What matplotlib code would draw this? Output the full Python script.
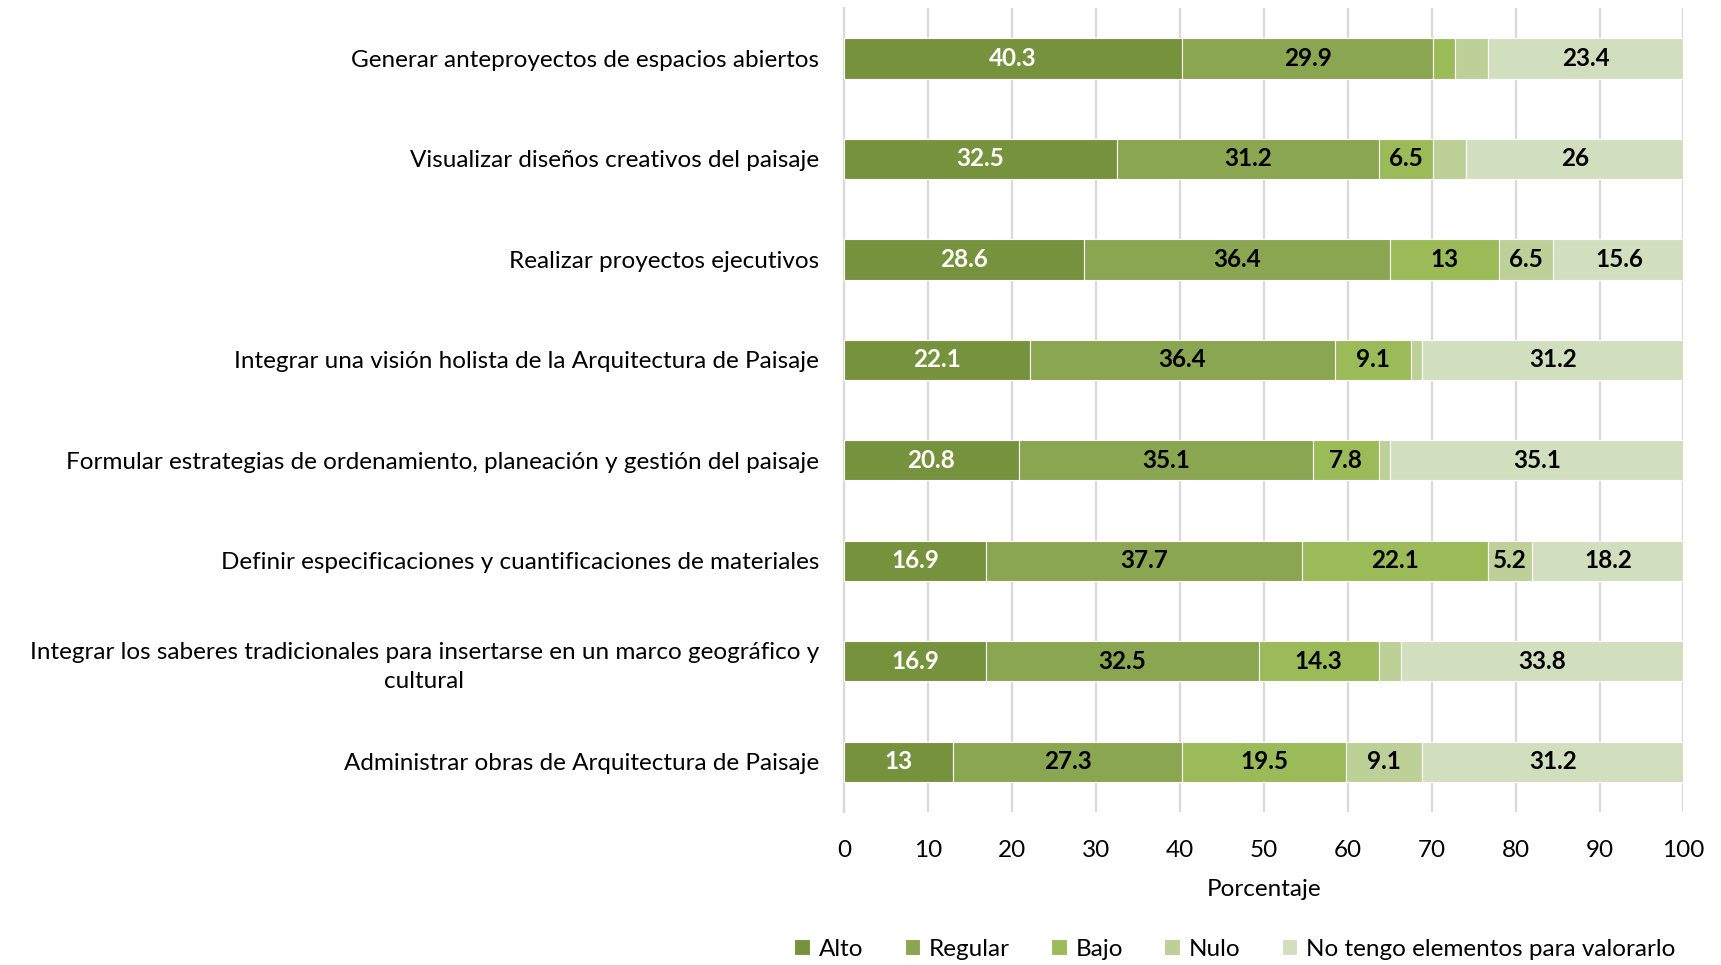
import matplotlib.pyplot as plt
import numpy as np

plt.rcParams["font.family"] = ["Lato", "DejaVu Sans"]

categories = [
    "Generar anteproyectos de espacios abiertos",
    "Visualizar diseños creativos del paisaje",
    "Realizar proyectos ejecutivos",
    "Integrar una visión holista de la Arquitectura de Paisaje",
    "Formular estrategias de ordenamiento, planeación y gestión del paisaje",
    "Definir especificaciones y cuantificaciones de materiales",
    "Integrar los saberes tradicionales para insertarse en un marco geográfico y\ncultural",
    "Administrar obras de Arquitectura de Paisaje",
]

alto = [40.3, 32.5, 28.6, 22.1, 20.8, 16.9, 16.9, 13]
regular = [29.9, 31.2, 36.4, 36.4, 35.1, 37.7, 32.5, 27.3]
bajo = [2.6, 6.5, 13, 9.1, 7.8, 22.1, 14.3, 19.5]
nulo = [3.9, 3.9, 6.5, 1.3, 1.3, 5.2, 2.6, 9.1]
sin_elementos = [23.4, 26, 15.6, 31.2, 35.1, 18.2, 33.8, 31.2]

series_names = ["Alto", "Regular", "Bajo", "Nulo", "No tengo elementos para valorarlo"]
colors = ["#76923C", "#8AA651", "#9BBB59", "#BCD097", "#D2DFBF"]
text_colors = ["white", "black", "black", "black", "black"]
# segments narrower than this get no label
min_label = 5.0
fs = 17.5

fig = plt.figure(figsize=(17.21, 9.65), dpi=100)
ax = fig.add_axes([0.4904, 0.1585, 0.4878, 0.833])

y = np.arange(len(categories))
left = np.zeros(len(categories))
for name, vals, color, tcolor in zip(series_names,
                                     [alto, regular, bajo, nulo, sin_elementos],
                                     colors, text_colors):
    vals = np.array(vals, dtype=float)
    ax.barh(y, vals, left=left, height=0.4, color=color, edgecolor="white",
            linewidth=0.8, label=name, zorder=3)
    for yi, l, v in zip(y, left, vals):
        if v >= min_label:
            ax.text(l + v / 2, yi, f"{v:g}", ha="center", va="center",
                    color=tcolor, fontsize=fs, fontweight="bold", zorder=4)
    left += vals

ax.set_xlim(0, 100)
ax.set_ylim(len(categories) - 0.5, -0.5)
ax.set_xticks(np.arange(0, 101, 10))
ax.set_yticks(y)
ax.set_yticklabels(categories, fontsize=fs, multialignment="center",
                   linespacing=1.45)
ax.tick_params(axis="y", length=0, pad=18)
ax.tick_params(axis="x", length=0, pad=20, labelsize=fs)
ax.grid(axis="x", color="#D9D9D9", linewidth=1.6, zorder=0)
for side in ["top", "right", "bottom"]:
    ax.spines[side].set_visible(False)
ax.spines["left"].set_color("#D9D9D9")
ax.spines["left"].set_linewidth(1.6)
ax.set_xlabel("Porcentaje", fontsize=fs, labelpad=13)

fig.legend(loc="center", bbox_to_anchor=(0.7175, 0.0165), ncol=5, frameon=False,
           fontsize=fs, handlelength=0.65, handleheight=0.65, handletextpad=0.35,
           columnspacing=1.7, borderaxespad=0)

fig.savefig("out.png", dpi=100)
